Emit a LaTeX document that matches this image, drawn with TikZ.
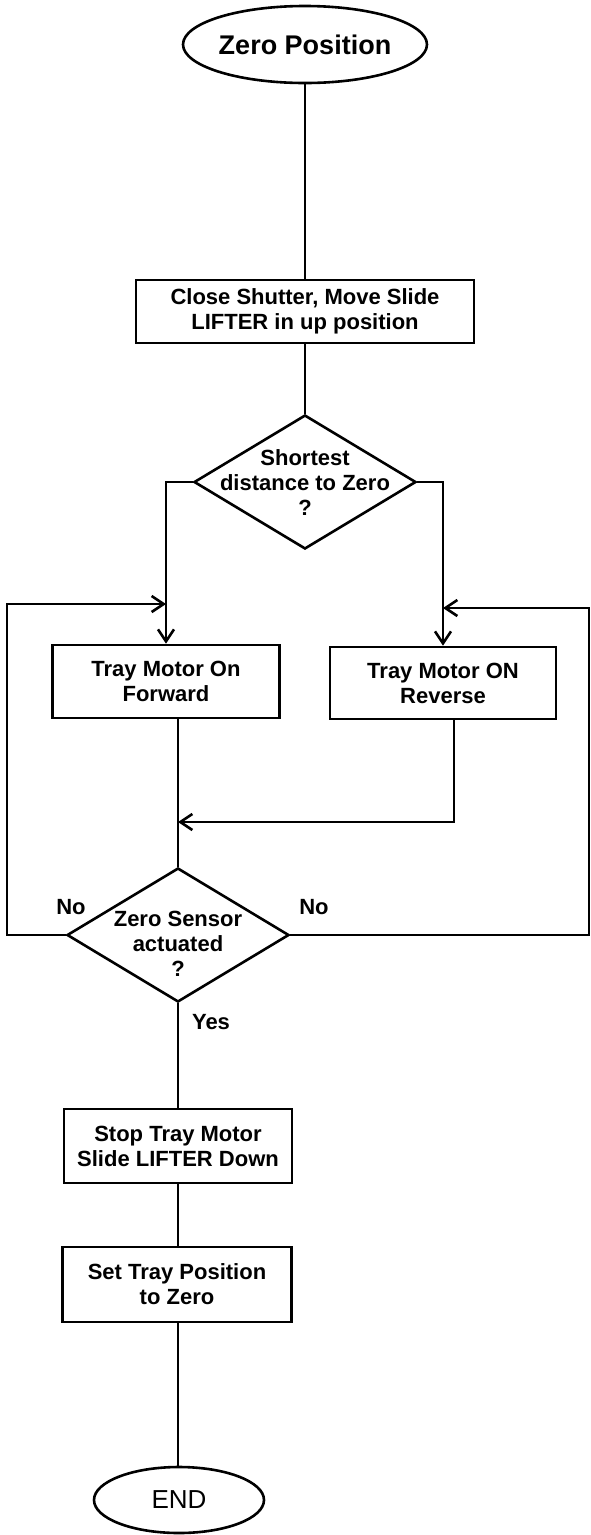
\documentclass[tikz,border=0pt]{standalone}
\usepackage{fontspec}
\setmainfont{Liberation Sans}
\usetikzlibrary{arrows.meta,shapes.geometric}
\newcommand\ztext[2]{\makebox[0pt]{\raisebox{#1}[0pt][0pt]{\begin{tabular}{@{}c@{}}#2\end{tabular}}}}
\begin{document}
\begin{tikzpicture}[x=1pt,y=-1pt,
  every node/.style={font=\bfseries\fontsize{22}{25}\selectfont},
  ln/.style={line width=2.6pt},
  arr/.style={ln,-{Straight Barb[length=12pt,width=16pt]}},
  procbox/.style={draw,ln,rectangle,align=center,inner sep=2pt},
  decision/.style={draw,ln,diamond,inner sep=0pt,minimum width=222pt,minimum height=134pt},
  term/.style={draw,ln,ellipse,inner sep=0pt},
  lbl/.style={inner sep=0pt}]
\useasboundingbox (0,0) rectangle (591,1535);
\fill[white] (0,0) rectangle (591,1535);

\node[term,minimum width=196pt,minimum height=77pt,font=\bfseries\fontsize{27}{30}\selectfont] (zero) at (305,44.5) {Zero Position};
\node[procbox,minimum width=338pt,minimum height=63pt] (b1) at (305,311.5) {Close Shutter, Move Slide\\LIFTER in up position};
\node[decision] (d1) at (305,482) {\ztext{-9pt}{Shortest\\distance to Zero\\?}};
\node[procbox,minimum width=227pt,minimum height=73pt] (b2) at (166,681.5) {Tray Motor On\\Forward};
\node[procbox,minimum width=226pt,minimum height=72pt] (b3) at (443,683) {Tray Motor ON\\Reverse};
\node[decision] (d2) at (178,935) {\ztext{-17pt}{Zero Sensor\\actuated\\?}};
\node[procbox,minimum width=228pt,minimum height=74pt] (b4) at (178,1146) {Stop Tray Motor\\Slide LIFTER Down};
\node[procbox,minimum width=229pt,minimum height=75pt] (b5) at (177,1284.5) {Set Tray Position\\to Zero};
\node[term,minimum width=170pt,minimum height=66pt,font=\mdseries\fontsize{26}{29}\selectfont] (end) at (179,1500) {END};

\node[lbl] (nol) at (71,907) {No};
\node[lbl] (nor) at (314,907) {No};
\node[lbl] (yes) at (211,1022) {Yes};

\coordinate (mr) at (454,822);
\coordinate (mj) at (178,822);
\coordinate (lc) at (7,935);
\coordinate (lt) at (7,604);
\coordinate (lj) at (166,604);
\coordinate (rc) at (589,935);
\coordinate (rt) at (589,608);
\coordinate (rj) at (443,608);

\draw[ln] (zero.south) -- (b1.north);
\draw[ln] (b1.south) -- (d1.north);
\draw[arr] (d1.west) -| (b2.north);
\draw[arr] (d1.east) -| (b3.north);
\draw[ln] (b2.south -| d2.north) -- (d2.north);
\draw[arr] (b3.south -| mr) -- (mr) -- (mj);
\draw[arr] (d2.west) -- (lc) -- (lt) -- (lj);
\draw[arr] (d2.east) -- (rc) -- (rt) -- (rj);
\draw[ln] (d2.south) -- (b4.north);
\draw[ln] (b4.south) -- (b4.south |- b5.north);
\draw[ln] (b5.south -| b4.south) -- (b4.south |- end.north);
\end{tikzpicture}
\end{document}
